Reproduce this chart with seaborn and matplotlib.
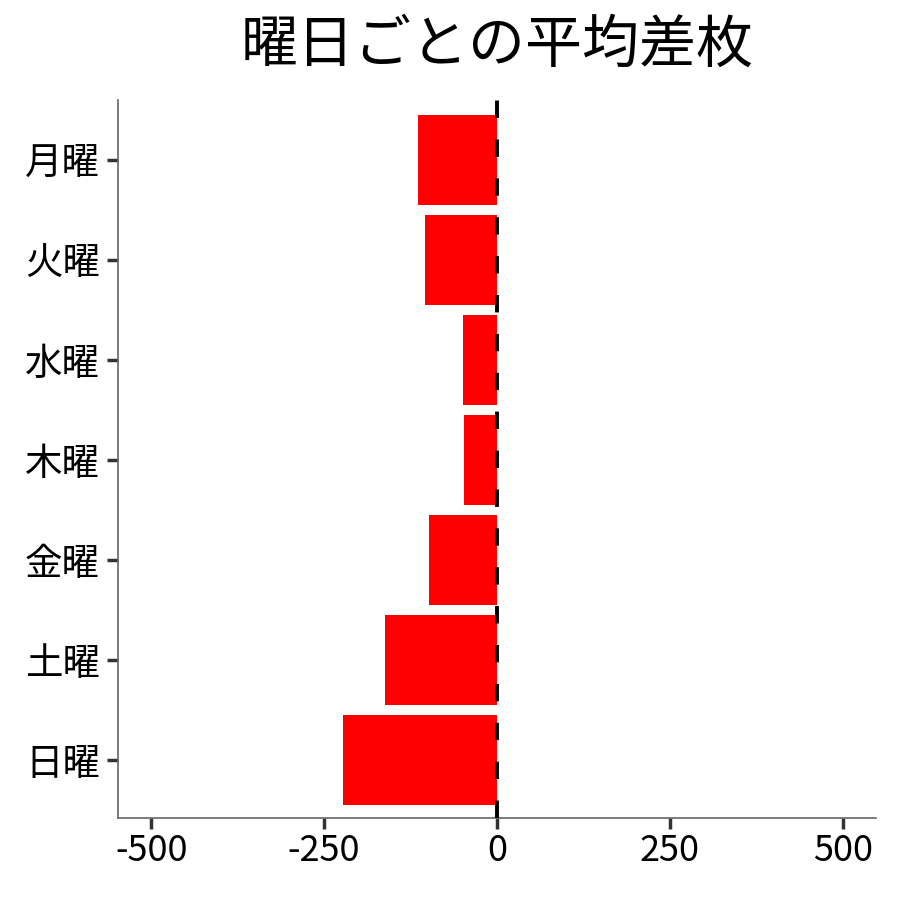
import matplotlib
matplotlib.use("Agg")
import matplotlib.pyplot as plt
import seaborn as sns
import pandas as pd

days = ["月曜", "火曜", "水曜", "木曜", "金曜", "土曜", "日曜"]
avg_diff = [-114, -104, -49, -48, -98, -162, -223]
xticks = [-500, -250, 0, 250, 500]
title = "曜日ごとの平均差枚"

sns.set_style("white")
plt.rcParams["font.family"] = ["Noto Sans CJK JP", "DejaVu Sans"]
plt.rcParams["axes.unicode_minus"] = False

df = pd.DataFrame({"day": days, "diff": avg_diff})

fig = plt.figure(figsize=(9, 9), dpi=100)
ax = fig.add_axes([118 / 900, 1 - 818 / 900, (876 - 118) / 900, (818 - 100) / 900])

sns.barplot(data=df, y="day", x="diff", order=days, color="#FF0000",
            saturation=1, width=0.9, orient="h", ax=ax, edgecolor="none")
ax.axvline(0, color="black", lw=2.8, dashes=(4.5, 5.5), zorder=5)

ax.set_xlim(-548, 548)
ax.set_ylim(6.58, -0.6)
ax.set_xticks(xticks)
ax.set_xticklabels([str(v) for v in xticks])
ax.set_xlabel("")
ax.set_ylabel("")
ax.tick_params(axis="both", which="major", length=8, width=2.5,
               color="#333333", labelcolor="black", direction="out",
               bottom=True, left=True)
ax.tick_params(axis="y", labelsize=27, pad=5)
ax.tick_params(axis="x", labelsize=26, pad=3)
for s in ["top", "right"]:
    ax.spines[s].set_visible(False)
for s in ["left", "bottom"]:
    ax.spines[s].set_color("#666666")
    ax.spines[s].set_linewidth(1.2)

fig.text(0.5 * (118 + 876) / 900, 1 - 45 / 900, title, ha="center", va="center",
         fontsize=41, color="black")

fig.savefig("out.png", dpi=100)
